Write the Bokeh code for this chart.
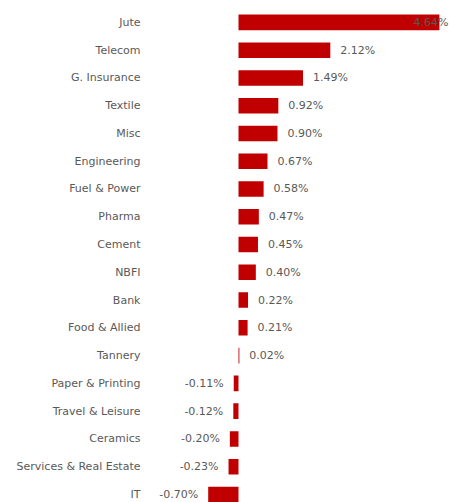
from bokeh.plotting import figure
from bokeh.models import ColumnDataSource, Range1d, FixedTicker
from bokeh.embed import file_html
from bokeh.resources import INLINE
from bokeh.core.properties import value

categories = ["Jute", "Telecom", "G. Insurance", "Textile", "Misc", "Engineering",
              "Fuel & Power", "Pharma", "Cement", "NBFI", "Bank", "Food & Allied",
              "Tannery", "Paper & Printing", "Travel & Leisure", "Ceramics",
              "Services & Real Estate", "IT"]
changes = [4.64, 2.12, 1.49, 0.92, 0.90, 0.67, 0.58, 0.47, 0.45, 0.40, 0.22, 0.21,
           0.02, -0.11, -0.12, -0.20, -0.23, -0.70]

n = len(categories)
pos = list(range(n))
x_start, x_end = -2.148, 4.873

labels = [f"{v:.2f}%" for v in changes]
lab_x, lab_align, lab_off = [], [], []
for v in changes:
    if v > 4.0:
        lab_x.append(x_end); lab_align.append("right"); lab_off.append(-1)
    elif v >= 0:
        lab_x.append(v); lab_align.append("left"); lab_off.append(10)
    else:
        lab_x.append(v); lab_align.append("right"); lab_off.append(-10)

src = ColumnDataSource(dict(y=pos, v=changes, lx=lab_x, la=lab_align, lo=lab_off, t=labels))

p = figure(width=449, height=502, output_backend="svg", toolbar_location=None,
           x_range=Range1d(x_start, x_end), y_range=Range1d(17.29, -0.5),
           min_border_left=145, min_border_right=0, min_border_top=8, min_border_bottom=0)
p.outline_line_color = None
p.xgrid.visible = False
p.ygrid.visible = False
p.xaxis.visible = False

p.hbar(y="y", left=0, right="v", height=0.56, source=src, fill_color="#C00000", line_color=None)
p.text(x="lx", y="y", text="t", text_align="la", x_offset="lo", text_baseline="middle",
       text_font=value("DejaVu Sans"), text_font_size="11px", text_color="#595959", source=src)

ax = p.yaxis[0]
ax.ticker = FixedTicker(ticks=pos)
ax.major_label_overrides = {i: c for i, c in enumerate(categories)}
ax.axis_line_color = None
ax.major_tick_line_color = None
ax.minor_tick_line_color = None
ax.major_tick_out = 0
ax.major_tick_in = 0
ax.major_label_standoff = 5
ax.major_label_text_font = "DejaVu Sans"
ax.major_label_text_font_size = "11px"
ax.major_label_text_color = "#595959"

open("out.html", "w").write(file_html(p, INLINE))
